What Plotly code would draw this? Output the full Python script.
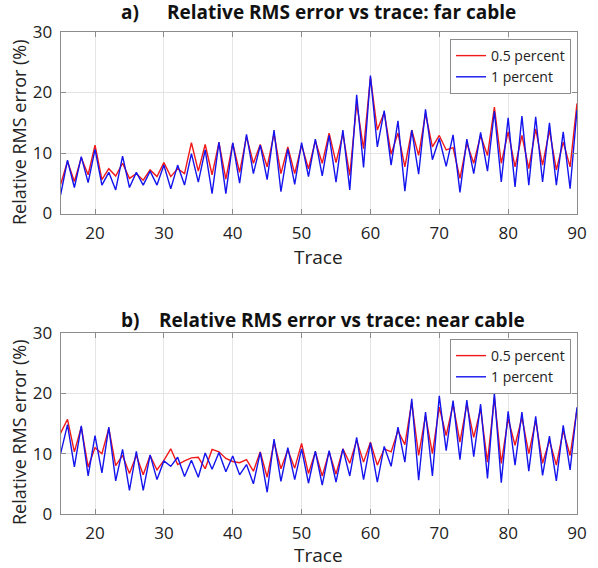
import plotly.graph_objects as go

traces = list(range(15, 91))

far_05 = [4.8, 8.6, 5.3, 9.2, 6.4, 11.3, 5.6, 7.4, 6.2, 8.3, 5.8, 6.6, 5.5, 7.2, 6.1, 8.4, 6.1, 7.4, 6.6, 11.7, 7.0, 11.4, 6.4, 11.7, 5.7, 11.6,
          6.8, 12.7, 8.3, 11.4, 7.7, 13.2, 6.6, 11.0, 6.6, 11.3, 7.4, 12.0, 8.3, 13.3, 8.4, 13.2, 6.3, 18.2, 10.7, 22.5, 13.8, 16.7, 9.8, 13.3,
          7.7, 13.8, 9.6, 16.5, 11.0, 12.9, 10.5, 10.9, 5.8, 11.6, 8.3, 12.9, 9.6, 17.6, 8.3, 13.5, 7.7, 12.9, 7.4, 14.0, 8.0, 13.8, 7.2, 11.8, 7.7, 18.2]
far_1 = [3.1, 8.8, 4.3, 9.4, 5.1, 10.6, 4.7, 6.8, 3.9, 9.5, 4.3, 6.8, 4.7, 7.0, 4.7, 8.0, 4.1, 8.0, 4.7, 9.9, 5.2, 10.5, 3.3, 11.8, 3.3, 11.7,
         5.0, 13.1, 6.6, 11.3, 5.6, 13.8, 3.6, 10.7, 4.8, 11.7, 6.1, 12.3, 6.2, 12.9, 5.2, 13.8, 3.9, 19.6, 7.6, 22.8, 11.0, 17.0, 8.0, 15.3,
         3.7, 13.8, 6.5, 17.2, 8.9, 12.4, 7.8, 13.0, 3.5, 12.3, 6.6, 13.4, 7.0, 16.9, 5.2, 15.8, 4.4, 16.1, 4.7, 16.0, 5.2, 15.0, 4.7, 13.5, 4.1, 17.1]
near_05 = [13.4, 15.7, 10.3, 14.4, 7.8, 11.0, 10.0, 14.2, 8.0, 9.7, 6.7, 9.7, 6.5, 9.7, 7.3, 8.9, 10.8, 8.2, 8.8, 9.3, 9.4, 7.5, 10.7, 10.3, 9.2, 8.7,
           8.5, 9.0, 7.1, 10.3, 6.1, 11.9, 7.5, 10.6, 7.6, 11.7, 6.7, 10.3, 6.3, 10.3, 6.6, 10.8, 8.4, 12.2, 8.6, 11.9, 8.1, 10.8, 10.3, 13.8,
           11.5, 18.5, 9.7, 16.3, 10.0, 17.7, 13.0, 18.2, 11.9, 18.2, 12.7, 17.4, 8.6, 19.3, 8.4, 15.8, 11.4, 16.0, 10.0, 15.5, 8.4, 12.2, 8.1, 13.8, 9.7, 17.4]
near_1 = [10.0, 14.8, 7.8, 14.6, 6.3, 13.0, 6.8, 14.4, 5.5, 10.7, 3.9, 10.4, 3.9, 9.8, 5.7, 8.8, 7.9, 9.4, 6.2, 8.9, 6.1, 10.1, 7.4, 10.2, 7.0, 9.6,
          6.5, 8.2, 5.0, 10.2, 3.6, 12.4, 5.4, 11.0, 5.7, 10.8, 5.1, 10.4, 4.8, 10.5, 5.3, 10.8, 6.3, 12.7, 5.7, 11.8, 5.3, 11.2, 7.9, 14.4,
          8.6, 19.1, 5.6, 16.9, 6.3, 19.6, 10.5, 18.8, 9.0, 18.9, 9.5, 18.2, 5.9, 20.0, 5.2, 17.0, 8.1, 16.9, 7.1, 16.2, 6.4, 12.9, 5.5, 14.7, 7.3, 17.7]

x_ticks = [20, 30, 40, 50, 60, 70, 80, 90]
y_ticks = [0, 10, 20, 30]
series_names = ["0.5 percent", "1 percent"]
panel_letters = ["a)", "b)"]
panel_titles = ["Relative RMS error vs trace: far cable", "Relative RMS error vs trace: near cable"]
x_label = "Trace"
y_label = "Relative RMS error (%)"

W, H = 598, 568
FONT = "Open Sans, sans-serif"
RED = "#f01818"
BLUE = "#1414ee"

fig = go.Figure()
panels = [(far_05, far_1, "x", "y", "legend"), (near_05, near_1, "x2", "y2", "legend2")]
for d05, d1, xa, ya, lg in panels:
    fig.add_trace(go.Scatter(x=traces, y=d05, mode="lines", name=series_names[0],
                             line=dict(color=RED, width=1.4), xaxis=xa, yaxis=ya, legend=lg))
    fig.add_trace(go.Scatter(x=traces, y=d1, mode="lines", name=series_names[1],
                             line=dict(color=BLUE, width=1.4), xaxis=xa, yaxis=ya, legend=lg))

def px_x(p):
    return p / W

def px_y(p):
    return 1 - p / H

xdom = [px_x(60.6), px_x(577)]
ax_common = dict(showline=True, linecolor="#8c8c8c", linewidth=1, mirror="ticks",
                 ticks="inside", ticklen=5, tickcolor="#8c8c8c", automargin=False,
                 showgrid=True, gridcolor="#e4e4e4", gridwidth=1, zeroline=False,
                 tickfont=dict(family=FONT, size=17, color="#222"))

leg_common = dict(xanchor="right", yanchor="top", bgcolor="white",
                  bordercolor="#8c8c8c", borderwidth=1, font=dict(family=FONT, size=14, color="#222"),
                  itemwidth=30, tracegroupgap=0)

fig.update_layout(
    template="none",
    width=W, height=H, margin=dict(l=0, r=0, t=0, b=0, pad=0, autoexpand=False),
    paper_bgcolor="white", plot_bgcolor="white",
    font=dict(family=FONT, color="#222"),
    xaxis=dict(domain=xdom, range=[15, 90], tickvals=x_ticks, anchor="y", ticklabelstandoff=4, **ax_common),
    yaxis=dict(domain=[px_y(213.5), px_y(32)], range=[0, 30], tickvals=y_ticks, anchor="x", ticklabelstandoff=4, **ax_common),
    xaxis2=dict(domain=xdom, range=[15, 90], tickvals=x_ticks, anchor="y2", ticklabelstandoff=4, **ax_common),
    yaxis2=dict(domain=[px_y(514), px_y(333)], range=[0, 30], tickvals=y_ticks, anchor="x2", ticklabelstandoff=4, **ax_common),
    legend=dict(x=px_x(571), y=px_y(39), **leg_common),
    legend2=dict(x=px_x(571), y=px_y(339), **leg_common),
    showlegend=True,
)

annots = []
for i, (ty, xy, yy_mid) in enumerate([(12, 257, 132), (320, 555, 432)]):
    annots.append(dict(text="<b>" + panel_letters[i] + "</b>", x=px_x(130), y=px_y(ty), xref="paper", yref="paper",
                       showarrow=False, xanchor="center", yanchor="middle", font=dict(family=FONT, size=19, color="#111")))
    annots.append(dict(text="<b>" + panel_titles[i] + "</b>", x=px_x(342), y=px_y(ty), xref="paper", yref="paper",
                       showarrow=False, xanchor="center", yanchor="middle", font=dict(family=FONT, size=19, color="#111")))
    annots.append(dict(text=x_label, x=px_x(318), y=px_y(xy), xref="paper", yref="paper",
                       showarrow=False, xanchor="center", yanchor="middle", font=dict(family=FONT, size=19, color="#222")))
    annots.append(dict(text=y_label, x=px_x(19), y=px_y(yy_mid), xref="paper", yref="paper", textangle=-90,
                       showarrow=False, xanchor="center", yanchor="middle", font=dict(family=FONT, size=18, color="#222")))
fig.update_layout(annotations=annots)

fig.write_html("out.html")
